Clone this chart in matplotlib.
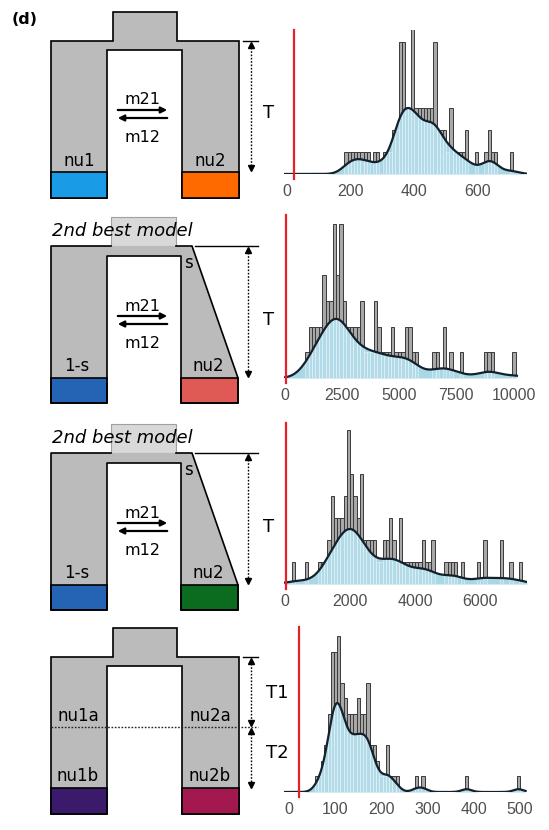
import numpy as np
import matplotlib
matplotlib.use('Agg')
import matplotlib.pyplot as plt
from matplotlib.patches import Polygon, Rectangle

# bootstrap histograms, bin centres and counts
t_centers = [185, 195, 205, 215, 225, 235, 245, 255, 275, 285, 305, 315, 325, 335, 345,
             355, 365, 375, 385, 395, 405, 415, 425, 435, 445, 455, 465, 475, 485, 495,
             505, 515, 525, 535, 545, 555, 565, 595, 625, 635, 645, 655, 705]
t_counts = [1, 1, 1, 1, 1, 1, 1, 1, 1, 1, 1, 1, 1, 2, 2,
            6, 6, 3, 3, 7, 3, 3, 3, 3, 3, 3, 6, 2, 2, 2,
            1, 3, 1, 1, 1, 1, 2, 1, 1, 2, 1, 1, 1]

s1_centers = [975, 1125, 1275, 1425, 1575, 1725, 1875, 2025, 2175, 2325, 2475, 2625, 2775, 2925,
              3075, 3225, 3375, 3525, 3675, 3825, 3975, 4125, 4275, 4425, 4575, 4725, 4875, 5025,
              5175, 5325, 5475, 5625, 5775, 6525, 6675, 6975, 7275, 7725, 8775, 8925, 9075, 10025]
s1_counts = [1, 2, 2, 2, 2, 4, 3, 3, 6, 4, 6, 3, 2, 2,
             2, 2, 3, 1, 1, 1, 3, 2, 1, 1, 1, 2, 1, 1,
             1, 2, 2, 1, 1, 1, 1, 2, 1, 1, 1, 1, 1, 1]

s2_centers = [250, 650, 1050, 1150, 1250, 1350, 1450, 1550, 1650, 1750, 1850, 1950, 2050, 2150,
              2250, 2350, 2450, 2550, 2650, 2750, 2850, 2950, 3050, 3150, 3250, 3350, 3450, 3550,
              3650, 3750, 3850, 3950, 4050, 4150, 4250, 4350, 4450, 4550, 4950, 5050, 5150, 5250,
              5450, 5950, 6150, 6650, 6950, 7250]
s2_counts = [1, 1, 1, 1, 1, 2, 4, 3, 3, 3, 4, 7, 5, 4,
             3, 5, 2, 2, 2, 2, 1, 1, 2, 2, 3, 2, 1, 3,
             1, 1, 1, 1, 1, 1, 2, 1, 1, 2, 1, 1, 1, 1,
             1, 1, 2, 2, 1, 1]

t2_centers = [59.5, 66.5, 73.5, 80.5, 87.5, 94.5, 101.5, 108.5, 115.5, 122.5, 129.5, 136.5,
              143.5, 150.5, 157.5, 164.5, 171.5, 178.5, 185.5, 192.5, 199.5, 206.5, 213.5,
              220.5, 227.5, 234.5, 276.5, 290.5, 384.5, 496.5]
t2_counts = [1, 1, 2, 3, 5, 9, 9, 10, 7, 6, 5, 5,
             5, 6, 5, 5, 7, 3, 3, 2, 1, 1, 3,
             1, 1, 1, 1, 1, 1, 1]

bin_widths = [10, 150, 100, 7]
red_values = [21, 80, 25, 23]
kde_peaks = [3.0, 2.3, 2.5, 5.7]
kde_bw = [24, 470, 300, 11]
tick_sets = [[0, 200, 400, 600],
             [0, 2500, 5000, 7500, 10000],
             [0, 2000, 4000, 6000],
             [0, 100, 200, 300, 400, 500]]

# layout (pixels)
W, H = 549, 830
ax_tops = [30, 215, 423, 627]
ax_bases = [174, 378, 584, 792]
level_px = [22, 25.7, 22, 15.6]
xlims = [(-10, 754), (-22, 10590), (-31, 7446), (-10, 515)]
kde_ranges = [(-10, 754), (0, 10150), (0, 7440), (-10, 512)]

GREY = '#bbbbbb'

fig = plt.figure(figsize=(W / 100, H / 100), dpi=100)

# sketch axes in pixel units
sk = fig.add_axes([0, 0, 1, 1])
sk.set_xlim(0, W)
sk.set_ylim(H, 0)
sk.axis('off')


def t_arrow(x, y0, y1):
    sk.plot([x, x], [y0 + 3, y1 - 3], color='black', lw=1, ls=(0, (1.2, 1.2)))
    sk.plot([x], [y0 + 4], marker='^', color='black', ms=5)
    sk.plot([x], [y1 - 4], marker='v', color='black', ms=5)


def migration(dy):
    sk.annotate('', xy=(170, 110 + dy), xytext=(115, 110 + dy),
                arrowprops=dict(arrowstyle='-|>', color='black', lw=1.6, mutation_scale=9))
    sk.annotate('', xy=(115, 118 + dy), xytext=(170, 118 + dy),
                arrowprops=dict(arrowstyle='-|>', color='black', lw=1.6, mutation_scale=9))
    sk.text(143, 100 + dy, 'm21', ha='center', va='center', fontsize=11.5)
    sk.text(143, 137 + dy, 'm12', ha='center', va='center', fontsize=11.5)


def split_model(dy, c1, c2):
    pts = [(51, 198), (51, 41), (113, 41), (113, 12), (177, 12), (177, 41), (239, 41),
           (239, 198), (182, 198), (182, 50), (107, 50), (107, 198)]
    sk.add_patch(Polygon([(x, y + dy) for x, y in pts], closed=True, fc=GREY, ec='black', lw=1.2))
    sk.add_patch(Rectangle((51, 172 + dy), 56, 26, fc=c1, ec='black', lw=1.2))
    sk.add_patch(Rectangle((182, 172 + dy), 57, 26, fc=c2, ec='black', lw=1.2))
    sk.plot([243, 258], [41 + dy, 41 + dy], color='black', lw=1)


def slant_model(dy, c1, c2):
    sk.add_patch(Rectangle((111, 217 + dy), 65, 29, fc='#d9d9d9', ec='#a0a0a0', lw=0.8))
    body = [(51, 403), (51, 246), (192, 246), (238, 378), (238, 403), (181, 403),
            (181, 256), (107, 256), (107, 403)]
    sk.add_patch(Polygon([(x, y + dy) for x, y in body], closed=True, fc=GREY, ec='none'))
    edge = [(111, 246), (51, 246), (51, 403), (107, 403), (107, 256), (181, 256),
            (181, 403), (238, 403), (238, 378), (192, 246), (176, 246)]
    sk.plot([p[0] for p in edge], [p[1] + dy for p in edge], color='black', lw=1.2)
    sk.add_patch(Rectangle((51, 378 + dy), 56, 25, fc=c1, ec='black', lw=1.2))
    sk.add_patch(Rectangle((181, 378 + dy), 57, 25, fc=c2, ec='black', lw=1.2))
    sk.plot([195, 258], [246 + dy, 246 + dy], color='black', lw=1)
    t_arrow(248, 246 + dy, 378 + dy)
    sk.text(263, 320 + dy, 'T', ha='left', va='center', fontsize=13)
    sk.text(188, 263 + dy, 's', ha='center', va='center', fontsize=12)
    sk.text(77, 366 + dy, '1-s', ha='center', va='center', fontsize=12)
    sk.text(208, 366 + dy, 'nu2', ha='center', va='center', fontsize=12)
    sk.text(52, 231 + dy, '2nd best model', ha='left', va='center', fontsize=13, style='italic')
    migration(206 + dy)


sk.text(12, 20, '(d)', ha='left', va='center', fontsize=11.5, fontweight='bold')

# model 1
split_model(0, '#1a9be6', '#ff6a00')
t_arrow(251, 41, 172)
sk.text(263, 113, 'T', ha='left', va='center', fontsize=13)
sk.text(79, 161, 'nu1', ha='center', va='center', fontsize=12)
sk.text(210, 161, 'nu2', ha='center', va='center', fontsize=12)
migration(0)

# models 2 and 3
slant_model(0, '#2563b5', '#e05a55')
slant_model(207, '#2563b5', '#0b6b1f')

# model 4
split_model(616, '#3c1a6b', '#a3184f')
sk.plot([51, 258], [727, 727], color='#222222', lw=1, ls=(0, (1.2, 1.2)))
t_arrow(251, 657, 727)
t_arrow(251, 727, 789)
sk.text(266, 693, 'T1', ha='left', va='center', fontsize=13)
sk.text(266, 753, 'T2', ha='left', va='center', fontsize=13)
sk.text(78, 716, 'nu1a', ha='center', va='center', fontsize=12)
sk.text(210, 716, 'nu2a', ha='center', va='center', fontsize=12)
sk.text(78, 776, 'nu1b', ha='center', va='center', fontsize=12)
sk.text(210, 776, 'nu2b', ha='center', va='center', fontsize=12)

# histograms with kde
all_centers = [t_centers, s1_centers, s2_centers, t2_centers]
all_counts = [t_counts, s1_counts, s2_counts, t2_counts]

for i in range(4):
    top, base = ax_tops[i], ax_bases[i]
    ax = fig.add_axes([284 / W, 1 - base / H, 243 / W, (base - top) / H])
    ymax = (base - top) / level_px[i]
    centers = np.array(all_centers[i], dtype=float)
    counts = np.array(all_counts[i])

    ax.bar(centers, counts, width=bin_widths[i], color='#a8a8a8', edgecolor='#3a3a3a',
           lw=0.7, zorder=1)

    xs = np.linspace(kde_ranges[i][0], kde_ranges[i][1], 800)
    samples = np.repeat(centers, counts)
    dens = np.exp(-0.5 * ((xs[:, None] - samples[None, :]) / kde_bw[i]) ** 2).sum(axis=1)
    dens = dens / dens.max() * kde_peaks[i]
    fill = ax.fill_between(xs, 0, dens, color='#aad7e6', lw=0, zorder=2)
    stripes = ax.bar(centers, counts, width=bin_widths[i], facecolor='#b9dfec',
                     edgecolor='white', lw=0.5, alpha=0.55, zorder=2.5)
    clip = fill.get_paths()[0]
    for b in stripes:
        b.set_clip_path(clip, ax.transData)
    ax.plot(xs, dens, color='#14202a', lw=1.6, zorder=3)

    below = -5 / level_px[i]
    ax.plot([red_values[i], red_values[i]], [below, ymax], color='#e8202a', lw=1.6,
            clip_on=False, zorder=4)

    ax.set_xlim(*xlims[i])
    ax.set_ylim(0, ymax)
    ax.set_xticks(tick_sets[i])
    ax.set_xticklabels([str(t) for t in tick_sets[i]], fontfamily='Liberation Sans',
                       fontsize=11.5, color='#505050')
    ax.tick_params(axis='x', length=0, pad=7)
    ax.set_yticks([])
    for sp in ax.spines.values():
        sp.set_visible(False)
    ax.patch.set_alpha(0)

fig.savefig('out.png', dpi=100)
